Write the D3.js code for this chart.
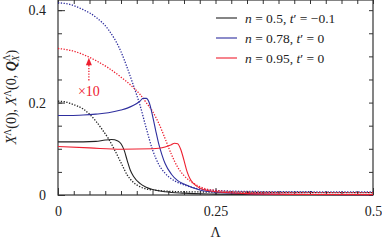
<!DOCTYPE html>
<html>
<head>
<meta charset="utf-8">
<script src="https://cdn.jsdelivr.net/npm/d3@7"></script>
<style>
  body { margin: 0; background: #fff; }
</style>
</head>
<body>
<div id="chart"></div>
<script>
// Data
const blackSolidL = [0, 0.02, 0.04, 0.06, 0.075, 0.085, 0.095, 0.1, 0.105, 0.11, 0.115, 0.12, 0.13, 0.14, 0.15, 0.17, 0.2, 0.25, 0.3, 0.4, 0.5];
const blackSolidV = [0.115, 0.115, 0.115, 0.116, 0.119, 0.12, 0.117, 0.111, 0.097, 0.074, 0.053, 0.04, 0.025, 0.017, 0.012, 0.007, 0.004, 0.002, 0.001, 0.0005, 0.0003];

const blackDotL = [0, 0.01, 0.02, 0.03, 0.04, 0.05, 0.06, 0.07, 0.08, 0.09, 0.1, 0.11, 0.12, 0.13, 0.15, 0.2, 0.3, 0.5];
const blackDotV = [0.203, 0.202, 0.198, 0.193, 0.186, 0.175, 0.16, 0.142, 0.122, 0.097, 0.07, 0.043, 0.027, 0.018, 0.011, 0.007, 0.006, 0.005];

const blueSolidL = [0, 0.02, 0.04, 0.06, 0.08, 0.1, 0.11, 0.12, 0.13, 0.135, 0.14, 0.145, 0.15, 0.155, 0.16, 0.165, 0.17, 0.18, 0.19, 0.2, 0.225, 0.25, 0.3, 0.4, 0.5];
const blueSolidV = [0.172, 0.172, 0.173, 0.175, 0.178, 0.184, 0.188, 0.194, 0.203, 0.209, 0.209, 0.199, 0.172, 0.14, 0.11, 0.087, 0.068, 0.045, 0.031, 0.024, 0.011, 0.006, 0.003, 0.001, 0.0005];

const blueDotL = [0, 0.02, 0.04, 0.06, 0.08, 0.1, 0.11, 0.12, 0.13, 0.14, 0.15, 0.16, 0.17, 0.18, 0.2, 0.225, 0.25, 0.3, 0.4, 0.5];
const blueDotV = [0.416, 0.412, 0.401, 0.385, 0.358, 0.31, 0.275, 0.236, 0.195, 0.145, 0.098, 0.066, 0.047, 0.035, 0.022, 0.013, 0.01, 0.0078, 0.007, 0.0065];

const redSolidL = [0, 0.05, 0.1, 0.15, 0.16, 0.17, 0.18, 0.185, 0.19, 0.195, 0.2, 0.205, 0.21, 0.215, 0.225, 0.25, 0.3, 0.4, 0.5];
const redSolidV = [0.105, 0.102, 0.099, 0.1, 0.101, 0.104, 0.109, 0.112, 0.111, 0.098, 0.075, 0.05, 0.034, 0.025, 0.015, 0.007, 0.003, 0.0012, 0.0008];

const redDotL = [0, 0.02, 0.04, 0.06, 0.08, 0.1, 0.12, 0.13, 0.14, 0.15, 0.16, 0.17, 0.18, 0.19, 0.2, 0.21, 0.225, 0.25, 0.3, 0.4, 0.5];
const redDotV = [0.317, 0.313, 0.304, 0.291, 0.275, 0.255, 0.232, 0.218, 0.2, 0.181, 0.155, 0.122, 0.088, 0.06, 0.042, 0.03, 0.018, 0.01, 0.006, 0.005, 0.005];

const xMajor = [0, 0.25, 0.5];
const xMajorLabels = ["0", "0.25", "0.5"];
const yMajor = [0, 0.2, 0.4];
const yMajorLabels = ["0", "0.2", "0.4"];

const legendLabels = [
  { n: "0.5", t: "\u22120.1" },
  { n: "0.78", t: "0" },
  { n: "0.95", t: "0" }
];
const seriesColors = ["#222222", "#2e2e9e", "#ee2030"];

const font = "Liberation Serif";

const width = 382;
const height = 240;
const margin = { top: 0, right: 9, bottom: 45, left: 58 };

const svg = d3.select("#chart")
  .append("svg")
  .attr("width", width)
  .attr("height", height);

const x = d3.scaleLinear()
  .domain([0, 0.5])
  .range([margin.left, width - margin.right]);

const y = d3.scaleLinear()
  .domain([0, 0.422])
  .range([height - margin.bottom, margin.top]);

const xMinor = d3.range(0, 0.5001, 0.025);
const yMinor = d3.range(0, 0.4201, 0.05);

// minor ticks (inward) on all four sides
svg.append("g")
  .attr("transform", `translate(0, ${y(0)})`)
  .call(d3.axisBottom(x).tickValues(xMinor).tickSize(-4).tickFormat("").tickSizeOuter(0));
svg.append("g")
  .attr("transform", `translate(0, ${y(0.422)})`)
  .call(d3.axisTop(x).tickValues(xMinor).tickSize(-4).tickFormat("").tickSizeOuter(0));
svg.append("g")
  .attr("transform", `translate(${x(0)}, 0)`)
  .call(d3.axisLeft(y).tickValues(yMinor).tickSize(-4).tickFormat("").tickSizeOuter(0));
svg.append("g")
  .attr("transform", `translate(${x(0.5)}, 0)`)
  .call(d3.axisRight(y).tickValues(yMinor).tickSize(-4).tickFormat("").tickSizeOuter(0));

// major ticks with labels
svg.append("g")
  .attr("transform", `translate(0, ${y(0)})`)
  .attr("font-family", font)
  .call(d3.axisBottom(x).tickValues(xMajor).tickSize(-7).tickPadding(11)
    .tickFormat((d, i) => xMajorLabels[i]).tickSizeOuter(0))
  .selectAll("text")
  .attr("font-family", font)
  .attr("font-size", 14)
  .attr("fill", "#222");

svg.append("g")
  .attr("transform", `translate(${x(0)}, 0)`)
  .call(d3.axisLeft(y).tickValues(yMajor).tickSize(-7).tickPadding(12)
    .tickFormat((d, i) => yMajorLabels[i]).tickSizeOuter(0))
  .selectAll("text")
  .attr("font-family", font)
  .attr("font-size", 14)
  .attr("fill", "#222");

svg.selectAll(".domain").remove();
svg.selectAll(".tick line").attr("stroke", "#333").attr("stroke-width", 1);

// frame
svg.append("rect")
  .attr("x", x(0))
  .attr("y", y(0.422))
  .attr("width", x(0.5) - x(0))
  .attr("height", y(0) - y(0.422))
  .attr("fill", "none")
  .attr("stroke", "#333")
  .attr("stroke-width", 1.2);

// curves
const line = d3.line()
  .x(d => x(d[0]))
  .y(d => y(d[1]))
  .curve(d3.curveMonotoneX);

const series = [
  { L: blackDotL, V: blackDotV, color: seriesColors[0], dotted: true },
  { L: blueDotL, V: blueDotV, color: seriesColors[1], dotted: true },
  { L: redDotL, V: redDotV, color: seriesColors[2], dotted: true },
  { L: blackSolidL, V: blackSolidV, color: seriesColors[0], dotted: false },
  { L: blueSolidL, V: blueSolidV, color: seriesColors[1], dotted: false },
  { L: redSolidL, V: redSolidV, color: seriesColors[2], dotted: false }
];

series.forEach(s => {
  const pts = s.L.map((l, i) => [l, s.V[i]]);
  svg.append("path")
    .datum(pts)
    .attr("d", line)
    .attr("fill", "none")
    .attr("stroke", s.color)
    .attr("stroke-width", s.dotted ? 1.3 : 1.1)
    .attr("stroke-dasharray", s.dotted ? "1.3,1.5" : null);
});

// x10 annotation with dotted arrow
const arrowX = x(0.049);
svg.append("line")
  .attr("x1", arrowX).attr("x2", arrowX)
  .attr("y1", y(0.248)).attr("y2", y(0.282))
  .attr("stroke", seriesColors[2])
  .attr("stroke-width", 1.3)
  .attr("stroke-dasharray", "1.3,1.5");
svg.append("path")
  .attr("d", `M${arrowX},${y(0.297)} L${arrowX - 3},${y(0.281)} L${arrowX + 3},${y(0.281)} Z`)
  .attr("fill", seriesColors[2]);
svg.append("text")
  .attr("x", arrowX)
  .attr("y", y(0.214))
  .attr("text-anchor", "middle")
  .attr("fill", seriesColors[2])
  .attr("font-family", font)
  .attr("font-size", 14)
  .text("\u00d710");

// legend
const legend = svg.append("g")
  .attr("transform", `translate(216, 18)`);

legendLabels.forEach((d, i) => {
  const g = legend.append("g").attr("transform", `translate(0, ${i * 20})`);
  g.append("line")
    .attr("x1", 0).attr("x2", 21)
    .attr("y1", 0).attr("y2", 0)
    .attr("stroke", seriesColors[i])
    .attr("stroke-width", 1.1);
  const t = g.append("text")
    .attr("x", 29)
    .attr("y", 4.5)
    .attr("font-family", font)
    .attr("font-size", 13.5)
    .attr("fill", "#222");
  t.append("tspan").attr("font-style", "italic").text("n");
  t.append("tspan").text(` = ${d.n}, `);
  t.append("tspan").attr("font-style", "italic").text("t");
  t.append("tspan").text(`\u2032 = ${d.t}`);
});

// axis titles
svg.append("text")
  .attr("x", x(0.25))
  .attr("y", 237)
  .attr("text-anchor", "middle")
  .attr("font-family", font)
  .attr("font-size", 14)
  .attr("fill", "#222")
  .text("\u039b");

const yt = svg.append("text")
  .attr("transform", `translate(16, 97) rotate(-90)`)
  .attr("text-anchor", "middle")
  .attr("font-family", font)
  .attr("font-size", 14)
  .attr("fill", "#222");
yt.append("tspan").attr("font-style", "italic").text("X");
yt.append("tspan").attr("dy", -5).attr("font-size", 9.5).text("\u039b");
yt.append("tspan").attr("dy", 5).text("(0), ");
yt.append("tspan").attr("font-style", "italic").text("X");
yt.append("tspan").attr("dy", -5).attr("font-size", 9.5).text("\u039b");
yt.append("tspan").attr("dy", 5).text("(0, ");
yt.append("tspan").attr("font-style", "italic").attr("font-weight", "bold").text("Q");
yt.append("tspan").attr("dy", 3).attr("font-size", 9.5).attr("font-style", "italic").text("X");
yt.append("tspan").attr("dx", -6).attr("dy", -9).attr("font-size", 9.5).text("\u039b");
yt.append("tspan").attr("dy", 6).text(")");
</script>
</body>
</html>
